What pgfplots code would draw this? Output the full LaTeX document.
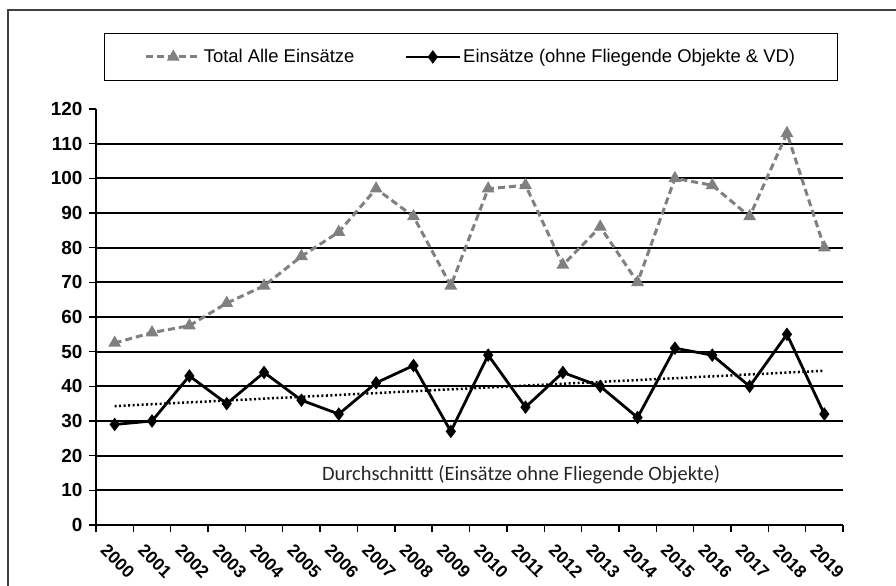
\documentclass[border=0pt]{standalone}
\usepackage{fontspec}
\setmainfont{Liberation Sans}
\newfontfamily\carlito{Carlito}
\usepackage{pgfplots}
\pgfplotsset{compat=1.18}
\definecolor{sergrey}{RGB}{128,128,128}
\begin{document}
\begin{tikzpicture}
\useasboundingbox (-96bp,-61bp) rectangle (800bp,525bp);
\begin{axis}[
  scale only axis,
  width=747bp, height=416bp,
  xmin=-0.5, xmax=19.5,
  ymin=0, ymax=120,
  axis x line*=bottom, axis y line*=left,
  axis line style={-, line width=1.6bp, black},
  xtick={0,...,19},
  xticklabels={2000,2001,2002,2003,2004,2005,2006,2007,2008,2009,2010,2011,2012,2013,2014,2015,2016,2017,2018,2019},
  minor xtick={-0.5,0.5,...,19.5},
  major x tick style={draw=none},
  minor tick length=7bp,
  tick align=outside,
  ytick={0,10,...,120},
  major tick length=7bp,
  tick style={line width=1.4bp, black},
  extra y ticks={10,20,...,110},
  extra y tick labels={},
  extra y tick style={grid=major, major tick length=0pt},
  grid style={line width=1.8bp, black},
  /pgf/number format/assume math mode=true,
  ticklabel style={font=\bfseries\fontsize{19}{19}\selectfont},
  yticklabel style={xshift=-3bp},
  xticklabel style={rotate=-45, anchor=north west, font=\bfseries\fontsize{17.5}{17.5}\selectfont, xshift=0bp, yshift=-9bp},
  legend style={at={(0.502,1)}, anchor=south, yshift=28bp,
    draw=black, line width=1.2bp, inner xsep=40bp, inner ysep=14bp,
    font=\fontsize{18.5}{18.5}\selectfont,
    /tikz/every even column/.append style={column sep=48bp}},
  legend columns=2,
  legend cell align=left,
  legend image code/.code={\draw[mark repeat=2,mark phase=2] plot coordinates {(0bp,0bp) (27bp,0bp) (54bp,0bp)};},
]
\addplot[sergrey, line width=3bp, dash pattern=on 7bp off 4bp, mark=triangle*, mark size=4.5bp, mark options={solid, fill=sergrey}]
coordinates {(0,52.5) (1,55.5) (2,57.5) (3,64) (4,69) (5,77.5) (6,84.5) (7,97) (8,89) (9,69) (10,97) (11,98) (12,75) (13,86) (14,70) (15,100) (16,98) (17,89) (18,113) (19,80)};
\addlegendentry{Total Alle Einsätze}
\addplot[black, line width=2.8bp, mark=diamond*, mark size=4.5bp, mark options={solid, fill=black}]
coordinates {(0,29) (1,30) (2,43) (3,35) (4,44) (5,36) (6,32) (7,41) (8,46) (9,27) (10,49) (11,34) (12,44) (13,40) (14,31) (15,51) (16,49) (17,40) (18,55) (19,32)};
\addlegendentry{Einsätze (ohne Fliegende Objekte \& VD)}
\addplot[forget plot, black, line width=2.5bp, dash pattern=on 2bp off 2.5bp]
coordinates {(0,34.3) (19,44.5)};
\node[font=\carlito\fontsize{20.5}{20.5}\selectfont, text=black!85] at (axis cs:10.88,14.4) {Durchschnittt (Einsätze ohne Fliegende Objekte)};
\end{axis}
\draw[line width=1.4bp, black!75] (-88bp,-61bp) -- (-88bp,515bp) -- (800bp,515bp);
\end{tikzpicture}
\end{document}
